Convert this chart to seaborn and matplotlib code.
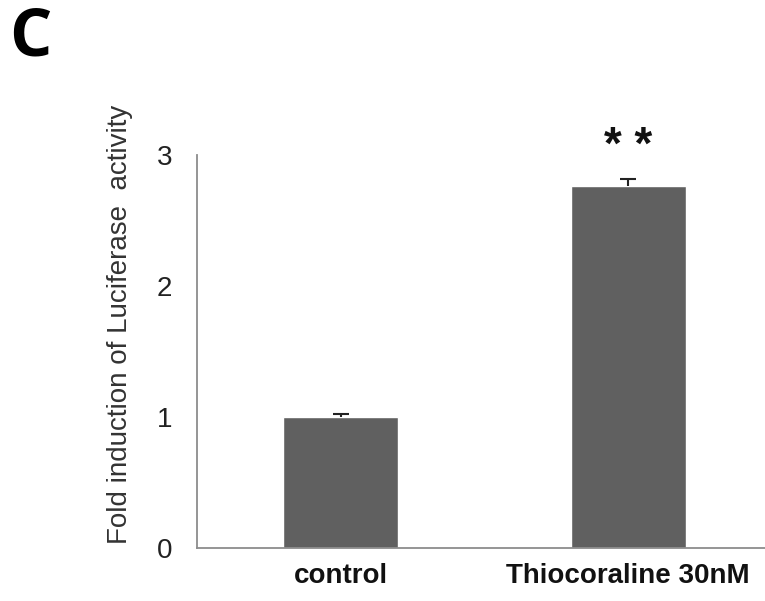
import numpy as np
import pandas as pd
import seaborn as sns
import matplotlib.pyplot as plt

# data
groups = ['control', 'Thiocoraline 30nM']
fold = [1.0, 2.76]
err = [0.025, 0.06]
stars = ['', '* *']

df = pd.DataFrame({'group': groups, 'fold': fold})

sns.set_style('white')
plt.rcParams['font.family'] = ['Liberation Sans', 'DejaVu Sans']

fig = plt.figure(figsize=(7.65, 6.01), dpi=100)
ax = fig.add_axes([0.2575, 0.0882, 0.7516, 0.654])

sns.barplot(data=df, x='group', y='fold', color='#606060', saturation=1,
            width=0.4, errorbar=None, ax=ax)
# upper error bars only (Excel style)
eb = ax.errorbar(np.arange(len(groups)), fold, yerr=[np.zeros(len(err)), err],
                 fmt='none', ecolor='#222222', elinewidth=1.5, capsize=6, capthick=1.5)
eb[1][0].set_visible(False)

for i, s in enumerate(stars):
    if s:
        ax.text(i, fold[i] + err[i] + 0.15, s, ha='center', va='baseline',
                fontsize=33, fontweight='bold', color='#111111', clip_on=False)

ax.set_ylim(0, 3)
ax.set_xlim(-0.5, 1.5)
ax.set_yticks([0, 1, 2, 3])
ax.set_yticklabels(['0', '1', '2', '3'], fontsize=20, color='#222222')

# ticks at category boundaries, labels at centres
ax.set_xticks([-0.5, 0.5, 1.5])
ax.set_xticklabels(['', '', ''])
ax.set_xticks([0, 1], minor=True)
ax.set_xticklabels(groups, minor=True, fontsize=20, fontweight='bold', color='#111111')
ax.tick_params(axis='x', which='minor', length=0, pad=11)
ax.tick_params(axis='x', which='major', length=8, width=1.3, color='#8c8c8c', direction='out')
ax.tick_params(axis='y', length=8, width=1.3, color='#8c8c8c', direction='out', pad=10)

ax.set_xlabel('')
ax.set_ylabel('Fold induction of Luciferase  activity', fontsize=20, color='#333333')
ax.yaxis.set_label_coords(-0.111, 0.57)

for side in ['top', 'right']:
    ax.spines[side].set_visible(False)
for side in ['left', 'bottom']:
    ax.spines[side].set_color('#8c8c8c')
    ax.spines[side].set_linewidth(1.3)

fig.text(0.012, 0.992, 'C', fontsize=48, fontweight='bold', family='Open Sans',
         ha='left', va='top', color='#000000')

fig.savefig('out.png', dpi=100)
